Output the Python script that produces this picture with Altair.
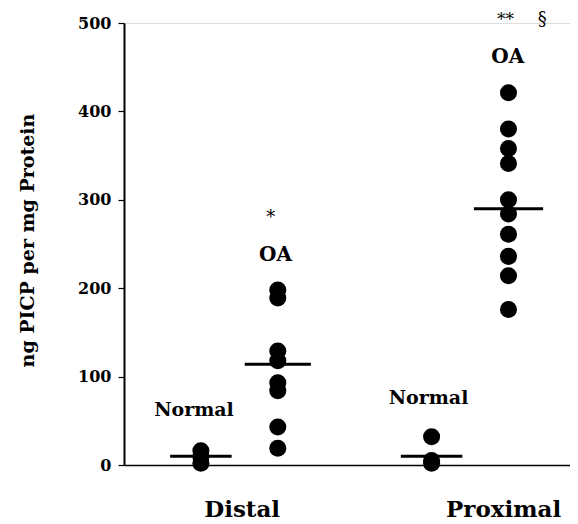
import altair as alt
import pandas as pd

# ---- data ----
groups = ["Distal Normal", "Distal OA", "Proximal Normal", "Proximal OA"]
distal_normal = [16, 9, 2]
distal_oa = [198, 189, 129, 118, 93, 84, 43, 19]
proximal_normal = [32, 5, 2]
proximal_oa = [421, 380, 358, 341, 300, 284, 261, 236, 214, 176]
medians = [10, 114, 10, 290]

region_labels = ["Distal", "Proximal"]
ann_texts = ["Normal", "*", "OA", "Normal", "**", "§", "OA"]
ann_values = [62, 279, 238, 76, 503, 503, 461]

# ---- layout (not data) ----
pos = {"Distal Normal": 1, "Distal OA": 2, "Proximal Normal": 4, "Proximal OA": 5}
half = {"Distal Normal": 0.40, "Distal OA": 0.43, "Proximal Normal": 0.40, "Proximal OA": 0.45}
ann_x = [0.91, 1.91, 1.97, 3.96, 4.96, 5.44, 4.99]
ann_size = [19, 18, 20, 19, 17, 18, 20]
ann_weight = ["bold", "normal", "bold", "bold", "normal", "normal", "bold"]

series = [distal_normal, distal_oa, proximal_normal, proximal_oa]
pts = pd.DataFrame(
    [{"group": g, "x": pos[g], "value": v} for g, vals in zip(groups, series) for v in vals]
)
med = pd.DataFrame(
    [{"group": g, "x": pos[g] - half[g], "x2": pos[g] + half[g], "value": m}
     for g, m in zip(groups, medians)]
)
ann = pd.DataFrame({"x": ann_x, "value": ann_values, "text": ann_texts,
                    "size": ann_size, "weight": ann_weight})

FONT = "DejaVu Serif"
xscale = alt.Scale(domain=[0, 5.8], nice=False, zero=False)
yscale = alt.Scale(domain=[0, 500], nice=False)

xaxis = alt.Axis(values=[1.53, 4.93],
                 labelExpr="datum.value < 3 ? '" + region_labels[0] + "' : '" + region_labels[1] + "'",
                 ticks=False, grid=False, title=None,
                 labelFont=FONT, labelFontWeight="bold", labelFontSize=23,
                 labelColor="black", labelPadding=33,
                 domainColor="black", domainWidth=1.5)
yaxis = alt.Axis(values=[0, 100, 200, 300, 400, 500], grid=False,
                 title="ng PICP per mg Protein",
                 titleFont=FONT, titleFontWeight="bold", titleFontSize=19,
                 titleColor="black", titleAngle=-90, titleAlign="center",
                 titleBaseline="middle", titleX=-97, titleY=217,
                 labelFont=FONT, labelFontWeight="bold", labelFontSize=16,
                 labelColor="black", labelPadding=7,
                 tickSize=6, tickColor="black", tickWidth=1.2,
                 domainColor="black", domainWidth=2)

points = alt.Chart(pts).mark_circle(size=290, color="black", opacity=1).encode(
    x=alt.X("x:Q", scale=xscale, axis=xaxis),
    y=alt.Y("value:Q", scale=yscale, axis=yaxis))

rules = alt.Chart(med).mark_rule(color="black", strokeWidth=3).encode(
    x=alt.X("x:Q", scale=xscale), x2="x2:Q", y=alt.Y("value:Q", scale=yscale))

bold_texts = alt.Chart(ann[ann.weight == "bold"]).mark_text(
    font=FONT, color="black", baseline="middle", align="center", fontWeight="bold"
).encode(x=alt.X("x:Q", scale=xscale), y=alt.Y("value:Q", scale=yscale),
         text="text:N", size=alt.Size("size:Q", scale=None, legend=None))
plain_texts = alt.Chart(ann[ann.weight == "normal"]).mark_text(
    font=FONT, color="black", baseline="middle", align="center", fontWeight="normal"
).encode(x=alt.X("x:Q", scale=xscale), y=alt.Y("value:Q", scale=yscale),
         text="text:N", size=alt.Size("size:Q", scale=None, legend=None))

chart = alt.layer(points, rules, bold_texts, plain_texts).properties(
    width=446, height=442,
    autosize=alt.AutoSizeParams(type="none"),
    padding={"left": 116, "top": 15, "right": 0, "bottom": 58},
).configure_view(stroke=None).configure(background="white")

chart.save("out.html", embed_options={"renderer": "svg", "actions": False})
